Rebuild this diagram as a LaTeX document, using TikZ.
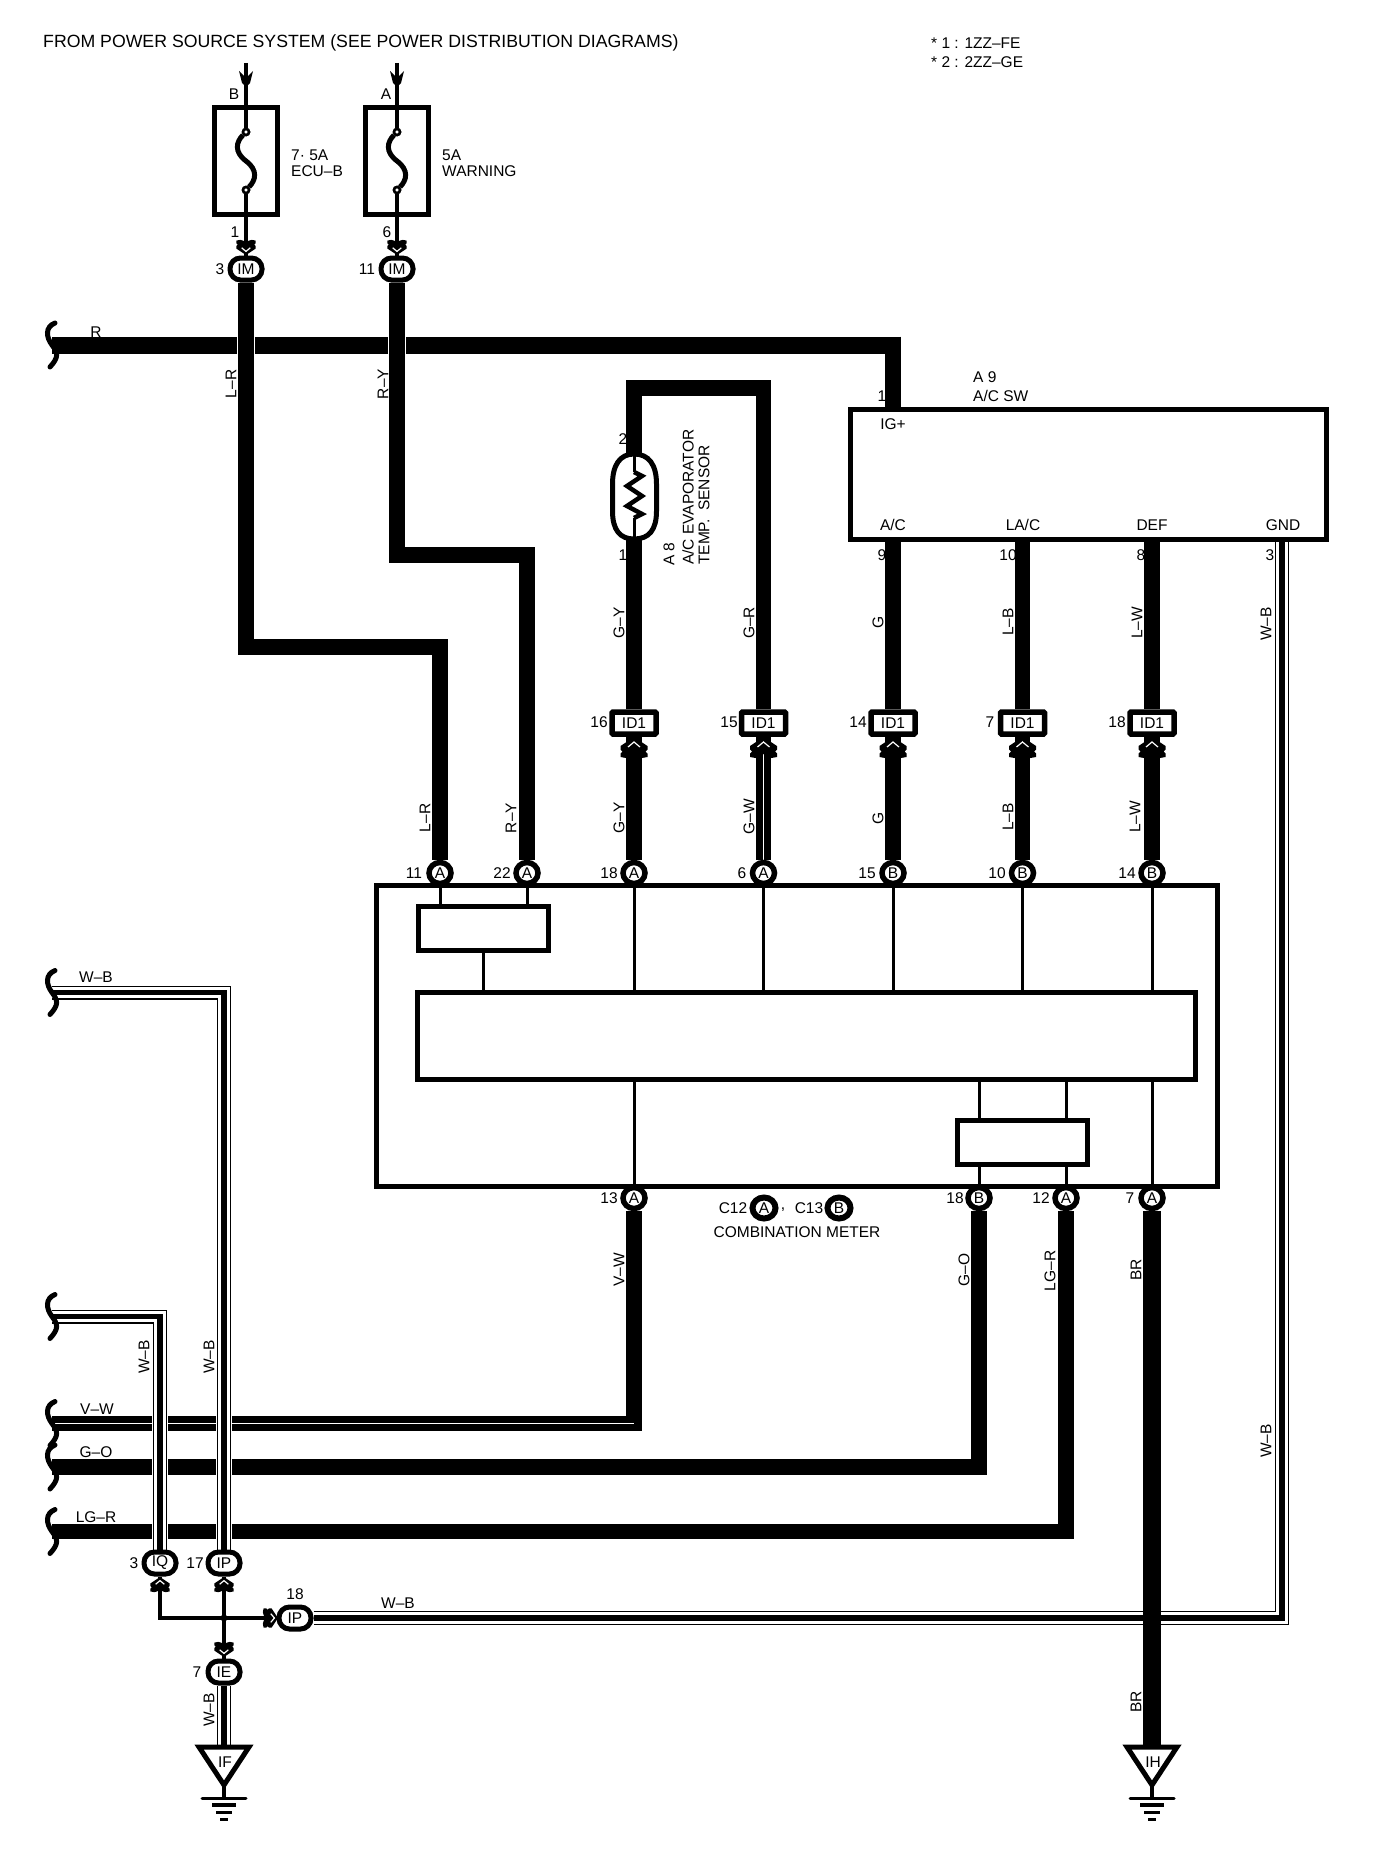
\documentclass[tikz,border=0pt]{standalone}
\usepackage{fontspec}
\setmainfont{Liberation Sans}
\usetikzlibrary{backgrounds,shapes.geometric}
\newcommand{\chevr}[4]{% x y rotation scale
  \begin{scope}[shift={(#1,#2)},rotate=#3,scale=#4]
    \fill[black] (0,0)--(13.5,9)--(13.5,12.5)--(11.5,14.5)--(13.5,16.5)--(13.5,20)--(8,21)--(4,20)--(0,17)--(-4,20)--(-8,21)--(-13.5,20)--(-13.5,16.5)--(-11.5,14.5)--(-13.5,12.5)--(-13.5,9)--cycle;
    \draw[white,line width=1.2pt,line join=miter] (-6,10)--(0,5)--(6,10);
  \end{scope}}
\newcommand{\tailarrow}[2]{%
  \fill[black] (#1-7,#2)--(#1,#2+7)--(#1+7,#2)--(#1+4,#2+12)--(#1,#2+16)--(#1-4,#2+12)--cycle;}
\newcommand{\splicemark}[2]{%
  \draw[brack,shift={(#1,#2)}] (3,-22) .. controls (-7,-18) and (-6,-8) .. (0,0) .. controls (6,8) and (7,12) .. (-2,22);}
\newcommand{\wbwire}[1]{%
  \draw[wbhalo] #1; \draw[wbouter] #1; \draw[wbgap] #1; \draw[wbcore] #1;}
\newcommand{\gndmark}[2]{%
  \draw[line width=5pt,fill=white,line join=miter] (#1-25,#2)--(#1+25,#2)--(#1,#2+38)--cycle;
  \draw[line width=3.5pt] (#1,#2+38)--(#1,#2+51);
  \draw[line width=3pt,line cap=round] (#1-22,#2+51)--(#1+22,#2+51);
  \draw[line width=3.5pt] (#1-12,#2+58)--(#1+12,#2+58);
  \draw[line width=3pt] (#1-8,#2+65)--(#1+8,#2+65);
  \draw[line width=3pt] (#1-4,#2+72)--(#1+4,#2+72);}
\tikzset{
  lbl/.style={inner sep=0pt,font=\fontsize{15.5}{17}\selectfont},
  lblv/.style={lbl,rotate=90},
  titletxt/.style={inner sep=0pt,font=\fontsize{17.7}{20}\selectfont},
  thickw/.style={line width=15.5pt,line join=miter},
  haloed/.style={thickw,preaction={draw,white,line width=18pt}},
  striped/.style={thickw,postaction={draw,white,line width=1.2pt}},
  stripe/.style={white,line width=1.2pt},
  thinw/.style={line width=4pt,line join=miter},
  wbhalo/.style={white,line width=16pt,line join=miter},
  wbouter/.style={black,line width=14pt,line join=miter},
  wbgap/.style={white,line width=11.5pt,line join=miter},
  wbcore/.style={black,line width=5.5pt,line join=miter},
  brack/.style={line width=5pt,line cap=round},
  innerw/.style={line width=3pt},
  conn/.style={draw,line width=5pt,fill=white,rounded corners=10.5pt,minimum width=32pt,minimum height=22pt,inner sep=0pt,font=\fontsize{15.5}{17}\selectfont},
  pinc/.style={draw,ellipse,line width=5.5pt,fill=white,minimum width=22pt,minimum height=21pt,inner sep=0pt,font=\fontsize{15.5}{17}\selectfont},
  keyc/.style={draw,ellipse,line width=6pt,fill=white,minimum width=23pt,minimum height=21pt,inner sep=0pt,font=\fontsize{15.5}{17}\selectfont},
  idc/.style={draw,line width=5.5pt,fill=white,rounded corners=1pt,minimum width=44pt,minimum height=22pt,inner sep=0pt,font=\fontsize{15.5}{17}\selectfont},
  fusebox/.style={draw,line width=5pt,minimum width=63pt,minimum height=107pt,inner sep=0pt},
  fpin/.style={draw,circle,line width=2.5pt,fill=white,minimum size=6pt,inner sep=0pt},
  boxs/.style={draw,line width=5pt,inner sep=0pt},
}
\begin{document}
\begin{tikzpicture}[x=1pt,y=-1pt]
\useasboundingbox (0,0) rectangle (1376,1868);

% ---- boxes
\node[fusebox] (fuseB) at (246,161) {};
\node[fusebox] (fuseA) at (397,161) {};
\node[boxs,minimum width=475.5pt,minimum height=130.5pt] (acsw) at (1088.25,474.5) {};
\node[boxs,minimum width=841pt,minimum height=301pt] (meter) at (796.5,1035.5) {};
\node[boxs,minimum width=130pt,minimum height=44pt] (upbox) at (483,928.5) {};
\node[boxs,minimum width=778pt,minimum height=87pt] (core) at (806,1035.5) {};
\node[boxs,minimum width=130pt,minimum height=44pt] (lowbox) at (1022,1142) {};

% ---- fuse pins
\node[fpin] (fBt) at (246,132) {};
\node[fpin] (fBb) at (246,190) {};
\node[fpin] (fAt) at (397,132) {};
\node[fpin] (fAb) at (397,190) {};

% ---- connectors
\node[conn] (imB) at (246,269) {IM};
\node[conn] (imA) at (397,269) {IM};
\node[pinc] (pa11) at (440,873) {A};
\node[pinc] (pa22) at (527,873) {A};
\node[pinc] (pa18) at (634,873) {A};
\node[pinc] (pa6) at (763.5,873) {A};
\node[pinc] (pb15) at (893,873) {B};
\node[pinc] (pb10) at (1022.5,873) {B};
\node[pinc] (pb14) at (1152,873) {B};
\node[pinc] (pa13) at (634,1198) {A};
\node[pinc] (pb18) at (979,1198) {B};
\node[pinc] (pa12) at (1066,1198) {A};
\node[pinc] (pa7) at (1152,1198) {A};
\node[keyc] (keyA) at (764,1208) {A};
\node[keyc] (keyB) at (839,1208) {B};
\node[idc] (id16) at (634,723) {ID1};
\node[idc] (id15) at (763.5,723) {ID1};
\node[idc] (id14) at (893,723) {ID1};
\node[idc] (id7) at (1022.5,723) {ID1};
\node[idc] (id18) at (1152,723) {ID1};
\node[conn] (iq) at (160,1563) {IQ};
\node[conn] (ip17) at (224,1563) {IP};
\node[conn] (ip18) at (295,1618) {IP};
\node[conn] (ie) at (224,1672) {IE};

% ---- free ends and bends
\coordinate (srcB) at (246,63);
\coordinate (srcA) at (397,63);
\coordinate (rL) at (52,345);
\coordinate (rC) at (900.75,345);
\coordinate (rT) at (893,336.5);
\coordinate (lr1) at (246,647);
\coordinate (lr2) at (440,647);
\coordinate (ry1) at (397,555);
\coordinate (ry2) at (527,555);
\coordinate (snsT) at (634,454);
\coordinate (snsB) at (634,539);
\coordinate (snsC1) at (634,388);
\coordinate (snsC2) at (763.5,388);
\coordinate (vwL) at (52,1423.5);
\coordinate (vwC) at (634,1423.5);
\coordinate (goL) at (52,1467);
\coordinate (goC) at (979,1467);
\coordinate (lgL) at (52,1531.5);
\coordinate (lgC) at (1066,1531.5);
\coordinate (wb1L) at (52,992.5);
\coordinate (wb1C) at (224,992.5);
\coordinate (wb2L) at (52,1316.5);
\coordinate (wb2C) at (160,1316.5);
\coordinate (wb3C) at (1282,1618);
\coordinate (wb3T) at (1282,542);
\coordinate (iqC) at (160,1618);
\coordinate (jn) at (224,1618);
\coordinate (ifT) at (224,1747);
\coordinate (ihT) at (1152,1747);

% ---- wires
\begin{pgfonlayer}{background}
\fill[white] (0,0) rectangle (1376,1868);
\draw[line width=17pt,line join=miter] (rL) -- (rC);
\draw[thickw] (rT) -- (acsw.north -| rT);
\draw[haloed] (imB) -- (lr1) -- (lr2) -- (pa11);
\draw[haloed] (imA) -- (ry1) -- (ry2) -- (pa22);
\draw[thinw] (srcB) -- (fBt);
\draw[thinw] (fBb) -- (imB);
\draw[thinw] (srcA) -- (fAt);
\draw[thinw] (fAb) -- (imA);
\draw[thickw] (id16) -- (snsB);
\draw[thickw] (snsT) -- (snsC1) -- (snsC2) -- (id15);
\draw[thickw] (acsw.south -| id14) -- (id14);
\draw[thickw] (acsw.south -| id7) -- (id7);
\draw[thickw] (acsw.south -| id18) -- (id18);
\draw[thickw] (id16) -- (pa18);
\draw[striped] (id15) -- (pa6);
\draw[thickw] (id14) -- (pb15);
\draw[thickw] (id7) -- (pb10);
\draw[thickw] (id18) -- (pb14);
\draw[thickw] (vwL) -- (vwC) -- (pa13);
\draw[stripe] (vwL) -- (vwC);
\draw[thickw] (goL) -- (goC) -- (pb18);
\draw[thickw] (lgL) -- (lgC) -- (pa12);
\wbwire{(wb1L) -- (wb1C) -- (ip17)}
\wbwire{(wb2L) -- (wb2C) -- (iq)}
\wbwire{(ip18) -- (wb3C) -- (wb3T)}
\wbwire{(ie) -- (ifT)}
\draw[line width=18pt] (pa7) -- (ihT);
\draw[thinw] (iq) -- (iqC) -- (jn) -- (ip18);
\draw[thinw] (ip17) -- (ie);
\end{pgfonlayer}

% ---- meter internals
\draw[innerw] (meter.north -| pa11) -- (upbox.north -| pa11);
\draw[innerw] (meter.north -| pa22) -- (upbox.north -| pa22);
\draw[innerw] (upbox.south) -- (core.north -| upbox.south);
\foreach \p in {pa18,pa6,pb15,pb10,pb14}{\draw[innerw] (meter.north -| \p) -- (core.north -| \p);}
\draw[innerw] (core.south -| pa13) -- (meter.south -| pa13);
\draw[innerw] (core.south -| pa7) -- (meter.south -| pa7);
\foreach \p in {pb18,pa12}{\draw[innerw] (core.south -| \p) -- (lowbox.north -| \p);\draw[innerw] (lowbox.south -| \p) -- (meter.south -| \p);}

% ---- fuse elements
\draw[line width=5pt] (fBt) .. controls (236,142) and (234,152) .. (246,161) .. controls (258,170) and (256,180) .. (fBb);
\draw[line width=5pt] (fAt) .. controls (387,142) and (385,152) .. (397,161) .. controls (409,170) and (407,180) .. (fAb);

% ---- sensor
\draw[line width=5pt,fill=white] (612.5,484) .. controls (612.5,465) and (620,454) .. (snsT) .. controls (649,454) and (656.5,465) .. (656.5,484) -- (656.5,511) .. controls (656.5,530) and (649,539) .. (snsB) .. controls (620,539) and (612.5,530) .. (612.5,511) -- cycle;
\draw[line width=3pt] (snsT) -- (634,472);
\draw[line width=3pt] (snsB) -- (634,518);
\draw[line width=4.5pt,line join=miter] (634,472) -- (642,476) -- (627,486) -- (642,496) -- (627,506) -- (642,514) -- (634,518);
% ---- redraw fuse pins above curves
\node[fpin] (fBt2) at (246,132) {};
\node[fpin] (fBb2) at (246,190) {};
\node[fpin] (fAt2) at (397,132) {};
\node[fpin] (fAb2) at (397,190) {};

% ---- arrow marks
\tailarrow{246}{71}
\tailarrow{397}{71}
\chevr{246}{255}{180}{0.72}
\chevr{397}{255}{180}{0.72}
\foreach \x in {634,763.5,893,1022.5,1152}{\chevr{\x}{737}{0}{1}}
\chevr{160}{1577}{0}{0.72}
\chevr{224}{1577}{0}{0.72}
\chevr{278}{1618}{-90}{0.72}
\chevr{224}{1657}{180}{0.72}
\fill (jn) circle (3.5pt);

% ---- splice marks
\splicemark{52}{345}
\splicemark{52}{992.5}
\splicemark{52}{1316.5}
\splicemark{52}{1423.5}
\splicemark{52}{1467}
\splicemark{52}{1531.5}

% ---- grounds
\gndmark{224}{1747}
\gndmark{1152}{1747}

% ---- texts
\node[titletxt,anchor=west] (tTitle) at (43,43) {FROM POWER SOURCE SYSTEM (SEE POWER DISTRIBUTION DIAGRAMS)};
\node[lbl,anchor=west] (tN1) at (931,43) {* 1 : 1ZZ–FE};
\node[lbl,anchor=west] (tN2) at (931,62) {* 2 : 2ZZ–GE};
\node[lbl] (tB) at (234,94) {B};
\node[lbl] (tA) at (386,94) {A};
\node[lbl,anchor=west] (tF1a) at (291,155) {7· 5A};
\node[lbl,anchor=west] (tF1b) at (291,171) {ECU–B};
\node[lbl,anchor=west] (tF2a) at (442,155) {5A};
\node[lbl,anchor=west] (tF2b) at (442,171) {WARNING};
\node[lbl] (t1a) at (235,232) {1};
\node[lbl] (t6a) at (387,232) {6};
\node[lbl] (t3a) at (220,269) {3};
\node[lbl] (t11a) at (367,269) {11};
\node[lbl] (tR) at (96,332) {R};
\node[lblv] (tLR1) at (231,384) {L–R};
\node[lblv] (tRY1) at (383,384) {R–Y};
\node[lbl,anchor=west] (tA9) at (973,377) {A 9};
\node[lbl,anchor=west] (tACSW) at (973,396) {A/C SW};
\node[lbl] (t1b) at (882,396) {1};
\node[lbl] (tIG) at (893,424) {IG+};
\node[lbl] (tAC) at (893,525) {A/C};
\node[lbl] (tLAC) at (1023,525) {LA/C};
\node[lbl] (tDEF) at (1152,525) {DEF};
\node[lbl] (tGND) at (1283,525) {GND};
\node[lbl] (t9) at (882,555) {9};
\node[lbl] (t10a) at (1008,555) {10};
\node[lbl] (t8) at (1141,555) {8};
\node[lbl] (t3b) at (1270,555) {3};
\node[lbl] (t2s) at (623,439) {2};
\node[lbl] (t1s) at (623,555) {1};
\node[lblv,anchor=west] (tA8) at (669,566) {A 8};
\node[lblv,anchor=west] (tEV) at (688,565) {A/C EVAPORATOR};
\node[lblv,anchor=west] (tTS) at (704,565) {TEMP.\ \ SENSOR};
\node[lblv] (tGY1) at (619,623) {G–Y};
\node[lblv] (tGR) at (749,623) {G–R};
\node[lblv] (tG1) at (878,622) {G};
\node[lblv] (tLB1) at (1008,622) {L–B};
\node[lblv] (tLW1) at (1137,623) {L–W};
\node[lblv] (tWB1) at (1266,624) {W–B};
\node[lbl] (t16) at (599,722) {16};
\node[lbl] (t15) at (729,722) {15};
\node[lbl] (t14) at (858,722) {14};
\node[lbl] (t7a) at (990,722) {7};
\node[lbl] (t18a) at (1117,722) {18};
\node[lblv] (tLR2) at (425,818) {L–R};
\node[lblv] (tRY2) at (511,818) {R–Y};
\node[lblv] (tGY2) at (619,818) {G–Y};
\node[lblv] (tGW) at (749,817) {G–W};
\node[lblv] (tG2) at (878,818) {G};
\node[lblv] (tLB2) at (1008,817) {L–B};
\node[lblv] (tLW2) at (1135,817) {L–W};
\node[lbl] (t11b) at (414,873) {11};
\node[lbl] (t22) at (502,873) {22};
\node[lbl] (t18b) at (609,873) {18};
\node[lbl] (t6b) at (742,873) {6};
\node[lbl] (t15b) at (867,873) {15};
\node[lbl] (t10b) at (997,873) {10};
\node[lbl] (t14b) at (1127,873) {14};
\node[lbl] (t13) at (609,1198) {13};
\node[lbl] (t18c) at (955,1198) {18};
\node[lbl] (t12) at (1041,1198) {12};
\node[lbl] (t7b) at (1130,1198) {7};
\node[lbl] (tC12) at (733,1208) {C12};
\node[lbl] (tComma) at (783,1210) {,};
\node[lbl] (tC13) at (809,1208) {C13};
\node[lbl] (tCM) at (797,1232) {COMBINATION METER};
\node[lblv] (tVW1) at (619,1270) {V–W};
\node[lblv] (tGO1) at (964,1270) {G–O};
\node[lblv] (tLG1) at (1050,1271) {LG–R};
\node[lblv] (tBR1) at (1136,1270) {BR};
\node[lbl] (tWBa) at (96,977) {W–B};
\node[lblv] (tWBb) at (144,1357) {W–B};
\node[lblv] (tWBc) at (209,1357) {W–B};
\node[lbl] (tVW2) at (97,1409) {V–W};
\node[lbl] (tGO2) at (96,1452) {G–O};
\node[lbl] (tLG2) at (96,1517) {LG–R};
\node[lblv] (tWBd) at (1266,1441) {W–B};
\node[lbl] (t3c) at (134,1563) {3};
\node[lbl] (t17) at (195,1563) {17};
\node[lbl] (t18d) at (295,1594) {18};
\node[lbl] (tWBe) at (398,1603) {W–B};
\node[lbl] (t7c) at (197,1672) {7};
\node[lblv] (tWBf) at (209,1710) {W–B};
\node[lblv] (tBR2) at (1136,1702) {BR};
\node[lbl] (tIF) at (225,1762) {IF};
\node[lbl] (tIH) at (1153,1762) {IH};
\end{tikzpicture}
\end{document}
